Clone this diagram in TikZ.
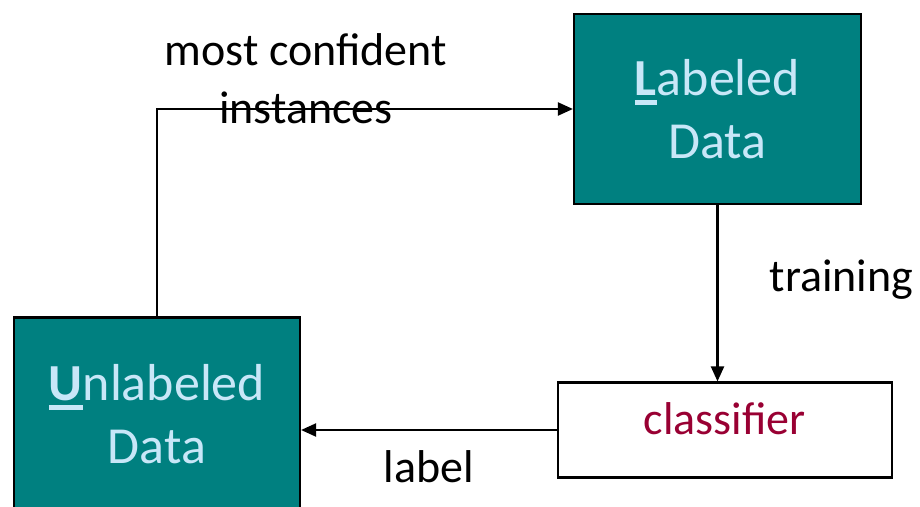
\documentclass[tikz,border=0pt]{standalone}
\usepackage{fontspec}
\setmainfont{Carlito}
\usetikzlibrary{arrows.meta}

\definecolor{boxteal}{RGB}{0,128,128}
\definecolor{boxtext}{RGB}{200,231,248}
\definecolor{clstext}{RGB}{153,0,51}

% bold first letter with a thick underline
\newcommand\leadul[1]{\setbox0=\hbox{\bfseries #1}\rlap{\rule[-9.3pt]{\wd0}{5pt}}\box0}

\begin{document}
\begin{tikzpicture}[x=1pt,y=-1pt,
  databox/.style={draw=black, line width=2.2pt, fill=boxteal, text=boxtext,
    align=center, inner sep=0pt, font={\fontsize{52}{63}\selectfont}},
  clsbox/.style={draw=black, line width=2.2pt, fill=white, text=clstext,
    inner sep=0pt, font={\fontsize{46}{55}\selectfont}},
  caption/.style={inner sep=0pt, text=black, font={\fontsize{46}{58}\selectfont}},
  arr/.style={draw=black, line width=2.2pt, -{Triangle[length=15pt,width=13pt]}}]

\clip (0,0) rectangle (920,506);
\fill[white] (0,0) rectangle (920,506);

% the three boxes
\node[databox, minimum width=287pt, minimum height=190pt] (lab) at (717.5,109)
  {\leadul{L}abeled\\Data};
\node[databox, minimum width=286pt, minimum height=193pt] (unl) at (157,414)
  {\leadul{U}nlabeled\\Data};
\node[clsbox, minimum width=334pt, minimum height=95pt, text depth=22pt] (cls) at (724.7,430)
  {classifier};

% connectors of the loop
\draw[arr] (unl.north) |- (lab.west);
\draw[arr] (lab.south) -- (lab.south |- cls.north);
\draw[arr] (cls.west) -- (cls.west -| unl.east);

% edge captions
\node[caption, align=center, anchor=south] (conf) at (306,124)
  {most confident\\instances};
\node[caption, anchor=base] (train) at (841.5,291.7) {training};
\node[caption, anchor=base] (lbl) at (429,482.7) {label};
\end{tikzpicture}
\end{document}
